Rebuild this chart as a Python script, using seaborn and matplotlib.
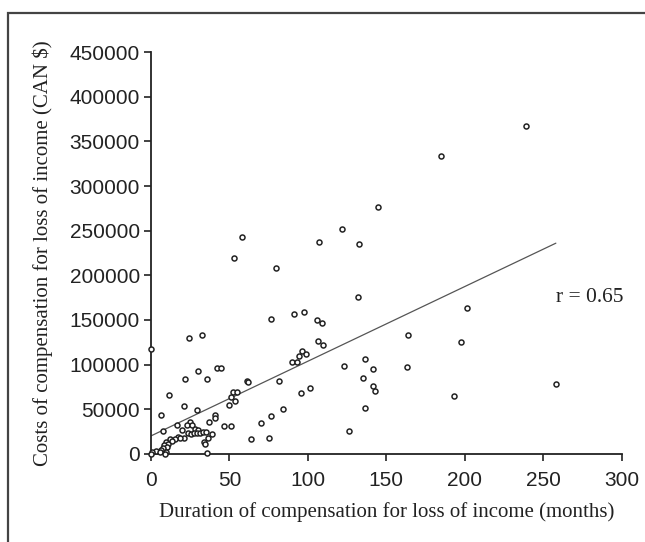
import numpy as np
import pandas as pd
import matplotlib
matplotlib.use("Agg")
import matplotlib.pyplot as plt
import seaborn as sns
from matplotlib.patches import Rectangle

# _____ DATA _____
months = [238.7, 184.9, 144.8, 121.8, 58.0, 107.0, 132.5, 53.1, 79.4, 131.8,
          201.1, 76.6, 91.1, 97.7, 105.5, 108.7, 163.5, 197.7, 32.5, 24.4,
          0.0, 106.2, 109.6, 96.2, 98.5, 94.1, 89.8, 92.8, 136.3, 123.1,
          141.6, 163.3, 135.0, 141.8, 142.7, 193.2, 257.8, 136.7, 126.1, 42.2,
          44.8, 29.9, 21.8, 35.7, 61.0, 61.8, 81.3, 95.5, 101.5, 52.4,
          54.6, 50.8, 53.5, 49.9, 11.2, 84.1, 76.2, 70.1, 63.7, 75.4,
          20.8, 29.1, 6.2, 40.6, 40.8, 36.8, 16.8, 7.6, 24.8, 22.7,
          26.1, 46.3, 50.8, 19.5, 23.8, 25.3, 28.0, 30.1, 27.2, 29.3,
          31.2, 33.3, 34.8, 39.0, 36.1, 34.0, 34.4, 21.2, 17.0, 18.7,
          15.1, 11.9, 13.2, 9.8, 10.6, 8.5, 10.0, 7.4, 6.4, 3.4,
          0.4, 5.5, 9.4, 8.9, 35.7, 0.0]
costs = [366900, 333700, 276100, 252200, 243300, 236900, 234600, 219000, 207700, 176300,
         163700, 150600, 156200, 158400, 150200, 146900, 133100, 125200, 133700, 130000,
         118000, 126300, 122200, 115100, 112100, 110200, 102800, 102800, 106500, 98600,
         95300, 97500, 84900, 76200, 70300, 65000, 78800, 51200, 25800, 96100,
         96100, 93400, 84100, 84400, 81500, 81000, 81500, 68400, 73600, 69000,
         69000, 63600, 59100, 54900, 65500, 50100, 42900, 35100, 17200, 18300,
         53500, 49300, 44100, 43400, 40700, 35900, 32900, 25800, 36200, 32500,
         32200, 31000, 31000, 26600, 23500, 22800, 27700, 26600, 23200, 23900,
         23200, 24700, 24700, 22100, 18300, 13500, 10900, 18300, 18700, 18300,
         16800, 16500, 14200, 13500, 11600, 9800, 7500, 7100, 4500, 3000,
         1900, 2600, 2200, 300, 1100, 300]

# regression line as printed
fit_months = [0, 258]
fit_costs = [20200, 236000]
r_label = "r = 0.65"

x_ticks = [0, 50, 100, 150, 200, 250, 300]
y_ticks = [0, 50000, 100000, 150000, 200000, 250000, 300000, 350000, 400000, 450000]

df = pd.DataFrame({"months": months, "costs": costs})
df_fit = pd.DataFrame({"months": fit_months, "costs": fit_costs})

# _____ PLOT _____
sns.set_style("ticks")
plt.rcParams['font.family'] = ['Liberation Sans', 'DejaVu Sans']

fig = plt.figure(figsize=(6.45, 5.42), dpi=100)
ax = fig.add_axes([0.234, 0.1624, 0.730, 0.7416])

sns.lineplot(data=df_fit, x="months", y="costs", ax=ax, color="#555555",
             linewidth=0.9, zorder=2)
sns.scatterplot(data=df, x="months", y="costs", ax=ax, s=13, marker="o",
                facecolor="white", edgecolor="#222222", linewidth=1.1,
                clip_on=False, zorder=3)

ax.set_xlim(0, 300)
ax.set_ylim(0, 450000)
ax.set_xticks(x_ticks)
ax.set_yticks(y_ticks)
ax.set_yticklabels([str(v) for v in y_ticks])
ax.tick_params(axis="both", direction="out", length=5, width=1.2,
               labelsize=15, colors="#222222")
ax.tick_params(axis="x", pad=7)
ax.tick_params(axis="y", pad=3)
for side in ["top", "right"]:
    ax.spines[side].set_visible(False)
for side in ["left", "bottom"]:
    ax.spines[side].set_linewidth(1.3)
    ax.spines[side].set_color("#222222")

serif = ['Liberation Serif', 'DejaVu Serif']
ax.set_xlabel("Duration of compensation for loss of income (months)",
              family=serif, fontsize=15, color="#222222", labelpad=9)
ax.set_ylabel("Costs of compensation for loss of income (CAN $)",
              family=serif, fontsize=15, color="#222222", labelpad=12)
ax.text(0.86, 0.39, r_label, transform=ax.transAxes, family=serif,
        fontsize=15.5, color="#222222", va="center", ha="left")

# outer frame around the figure (cut by the crop on right and bottom)
fig.patches.append(Rectangle((8 / 645, -0.1), 1.2, 0.1 + (1 - 13 / 542),
                             transform=fig.transFigure, fill=False,
                             edgecolor="#444444", linewidth=1.6))

fig.savefig("out.png", dpi=100)
